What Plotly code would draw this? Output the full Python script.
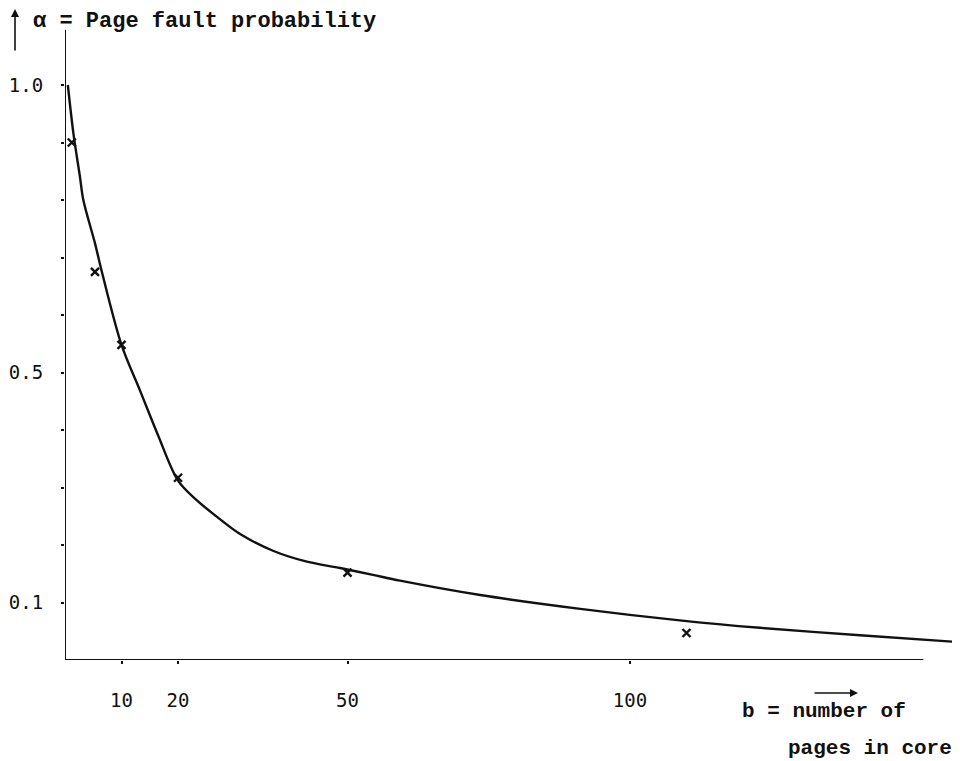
import plotly.graph_objects as go

# ---- data ----
curve_b = [0.5, 1.5, 2.65, 3.24, 5.3, 6.5, 10.0, 13.3, 16.5, 20.0, 23.3, 26.9, 31.0,
           36.8, 42.8, 48.7, 54.5, 59.3, 73.5, 91.2, 108.8, 123.0, 140.7, 158.4]
curve_alpha = [1.0, 0.915, 0.84, 0.80, 0.725, 0.676, 0.548, 0.468, 0.39, 0.312, 0.278, 0.249, 0.219,
               0.19, 0.171, 0.16, 0.148, 0.138, 0.113, 0.089, 0.069, 0.056, 0.043, 0.031]

meas_b = [1.2, 5.3, 10.0, 20.0, 50.0, 110.0]
meas_alpha = [0.90, 0.675, 0.548, 0.317, 0.152, 0.047]

x_tickvals = [10, 20, 50, 100]
x_ticktext = ["10", "20", "50", "100"]
y_tickvals = [0.1, 0.2, 0.3, 0.4, 0.5, 0.6, 0.7, 0.8, 0.9, 1.0]
y_ticktext = ["0.1", "", "", "", "0.5", "", "", "", "", "1.0"]

x_axis_end = 151.9
y_axis_end = 1.096

# ---- layout geometry (page body has an 8px margin) ----
OFF = 8
W, H = 960 - OFF, 761 - OFF
L, R, T, B = 65 - OFF, 0, 0, 101
PLOT_W = W - L - R
PLOT_H = H - B - T


def px(xp):
    return (xp - OFF - L) / PLOT_W


def py(yp):
    return (H - B - (yp - OFF)) / PLOT_H


x_max = PLOT_W / 5.65
y_max = PLOT_H / 575.0

INK = "#111111"
title_font = dict(family="Liberation Mono", size=22, color=INK)
xlab_font = dict(family="Liberation Mono", size=21, color=INK)
tick_font = dict(family="DejaVu Sans Mono", size=19, color=INK)

fig = go.Figure()

fig.add_trace(go.Scatter(
    x=curve_b, y=curve_alpha, mode="lines",
    line=dict(color=INK, width=2.4, shape="spline", smoothing=0.9),
    hoverinfo="skip", showlegend=False))

fig.add_trace(go.Scatter(
    x=meas_b, y=meas_alpha, mode="markers",
    marker=dict(symbol="x-thin", size=8, line=dict(color=INK, width=2.4), color=INK),
    showlegend=False))

# axis lines
fig.add_shape(type="line", x0=0, x1=x_axis_end, y0=0, y1=0, xref="x", yref="y",
              line=dict(color=INK, width=2))
fig.add_shape(type="line", x0=0, x1=0, y0=0, y1=y_axis_end, xref="x", yref="y",
              line=dict(color=INK, width=2))

annotations = [
    dict(text="<b>α = Page fault probability</b>", x=px(31), y=py(22), xref="paper", yref="paper",
         xanchor="left", yanchor="middle", showarrow=False, font=title_font),
    dict(text="<b>b = number of</b>", x=px(740), y=py(711), xref="paper", yref="paper",
         xanchor="left", yanchor="middle", showarrow=False, font=xlab_font),
    dict(text="<b>pages in core</b>", x=px(786), y=py(748), xref="paper", yref="paper",
         xanchor="left", yanchor="middle", showarrow=False, font=xlab_font),
    # vertical arrow, top left
    dict(text="", x=px(15), y=py(9), xref="paper", yref="paper", showarrow=True,
         ax=0, ay=43, arrowhead=2, arrowsize=1, arrowwidth=1.6, arrowcolor=INK),
    # horizontal arrow above x label
    dict(text="", x=px(858), y=py(693), xref="paper", yref="paper", showarrow=True,
         ax=-45, ay=0, arrowhead=2, arrowsize=1, arrowwidth=1.6, arrowcolor=INK),
]

fig.update_layout(
    width=W, height=H,
    margin=dict(l=L, r=R, t=T, b=B, pad=0),
    paper_bgcolor="white", plot_bgcolor="white",
    showlegend=False,
    annotations=annotations,
    xaxis=dict(range=[0, x_max], showgrid=False, zeroline=False, showline=False,
               tickmode="array", tickvals=x_tickvals, ticktext=x_ticktext,
               ticks="outside", ticklen=3, tickwidth=2, tickcolor=INK,
               tickfont=tick_font, ticklabelstandoff=20, fixedrange=True),
    yaxis=dict(range=[0, y_max], showgrid=False, zeroline=False, showline=False,
               tickmode="array", tickvals=y_tickvals, ticktext=y_ticktext,
               ticks="outside", ticklen=3, tickwidth=2, tickcolor=INK,
               tickfont=tick_font, ticklabelstandoff=14, fixedrange=True),
)

fig.write_html("out.html")
